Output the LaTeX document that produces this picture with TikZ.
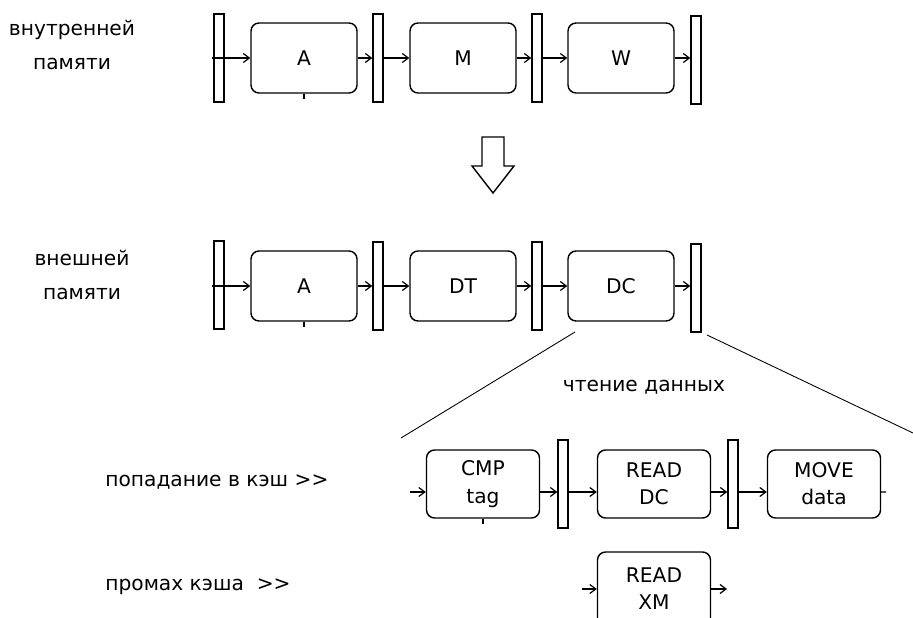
\documentclass[tikz,border=0pt]{standalone}
\usepackage{fontspec}
\setmainfont{DejaVu Sans}
\usetikzlibrary{arrows.meta,calc}
\tikzset{
  stagebox/.style={draw, rounded corners=1.6mm, line width=0.8pt, minimum width=2.12cm,
              minimum height=1.4cm, align=center, inner sep=0pt, font=\fontsize{11.5}{15.5}\selectfont},
  wideset/.style={stagebox, minimum width=2.26cm, minimum height=1.36cm},
  latch/.style={draw, line width=0.8pt, minimum width=0.2cm, minimum height=1.76cm, inner sep=0pt},
  flow/.style={-{Straight Barb[length=1.2mm,width=1.8mm]}, line width=0.7pt},
  txt/.style={align=center, inner sep=0pt, font=\fontsize{11.5}{19.8}\selectfont}
}
\begin{document}
\begin{tikzpicture}[x=0.02cm, y=-0.02cm]
\useasboundingbox (0,0) rectangle (913,618);
\node[txt] (lInt) at (72,45) {внутренней\\памяти};
\node[latch] (iL1) at (219,58) {};
\node[stagebox] (iA) at (304,58) {A};
\node[latch] (iL2) at (378,58) {};
\node[stagebox] (iM) at (463,58) {M};
\node[latch] (iL3) at (537,58) {};
\node[stagebox] (iW) at (621,58) {W};
\node[latch] (iL4) at (696,60) {};
\coordinate (iIn) at (212,58);
\draw[flow] (iIn) -- (iA.west);
\draw[flow] (iA.east) -- (iL2.west);
\draw[flow] (iL2.east) -- (iM.west);
\draw[flow] (iM.east) -- (iL3.west);
\draw[flow] (iL3.east) -- (iW.west);
\draw[flow] (iW.east) -- (iW.east -| iL4.west);
\draw[line width=0.8pt] (iA.south) -- ++(0,5);
\draw[line width=0.8pt] (482,137) -- (504,137) -- (504,166) -- (514,166) -- (493,193)
  -- (472,166) -- (482,166) -- cycle;
\node[txt] (lExt) at (82,275) {внешней\\памяти};
\node[latch] (eL1) at (219,285) {};
\node[stagebox] (eA) at (304,286) {A};
\node[latch] (eL2) at (378,286) {};
\node[stagebox] (eDT) at (463,286) {DT};
\node[latch] (eL3) at (537,286) {};
\node[stagebox] (eDC) at (621,286) {DC};
\node[latch] (eL4) at (696,288) {};
\coordinate (eIn) at (212,286);
\draw[flow] (eIn) -- (eA.west);
\draw[flow] (eA.east) -- (eL2.west);
\draw[flow] (eL2.east) -- (eDT.west);
\draw[flow] (eDT.east) -- (eL3.west);
\draw[flow] (eL3.east) -- (eDC.west);
\draw[flow] (eDC.east) -- (eDC.east -| eL4.west);
\draw[line width=0.8pt] (eA.south) -- ++(0,5);
\coordinate (zA) at (575,332);
\coordinate (zB) at (401,438);
\coordinate (zC) at (707,335);
\coordinate (zD) at (913,433);
\draw[line width=0.5pt] (zA) -- (zB);
\draw[line width=0.5pt] (zC) -- (zD);
\node[txt] (lRead) at (644,387) {чтение данных};
\node[txt, anchor=west] (lHit) at (105,482) {попадание в кэш >{}>};
\node[wideset] (hCmp) at (483,484) {CMP\\tag};
\node[latch] (hL1) at (563,484) {};
\node[wideset] (hRead) at (654,484) {READ\\DC};
\node[latch] (hL2) at (733,484) {};
\node[wideset] (hMove) at (824,484) {MOVE\\data};
\coordinate (hIn) at (410,492);
\coordinate (hOut) at (886,492);
\draw[flow] (hIn) -- (hIn -| hCmp.west);
\draw[flow] ([yshift=-1.6mm]hCmp.east) -- ([yshift=-1.6mm]hL1.west);
\draw[flow] ([yshift=-1.6mm]hL1.east) -- ([yshift=-1.6mm]hRead.west);
\draw[flow] ([yshift=-1.6mm]hRead.east) -- ([yshift=-1.6mm]hL2.west);
\draw[flow] ([yshift=-1.6mm]hL2.east) -- ([yshift=-1.6mm]hMove.west);
\draw[line width=0.7pt] ([yshift=-1.6mm]hMove.east) -- (hOut);
\draw[line width=0.8pt] (hCmp.south) -- ++(0,5);
\node[txt, anchor=west] (lMiss) at (105,587) {промах кэша\ \ >{}>};
\node[wideset, minimum height=1.48cm] (mRead) at (654,589) {READ\\XM};
\coordinate (mIn) at (582,589);
\coordinate (mOut) at (727,589);
\draw[flow] (mIn) -- (mRead.west);
\draw[flow] (mRead.east) -- (mOut);
\end{tikzpicture}
\end{document}
